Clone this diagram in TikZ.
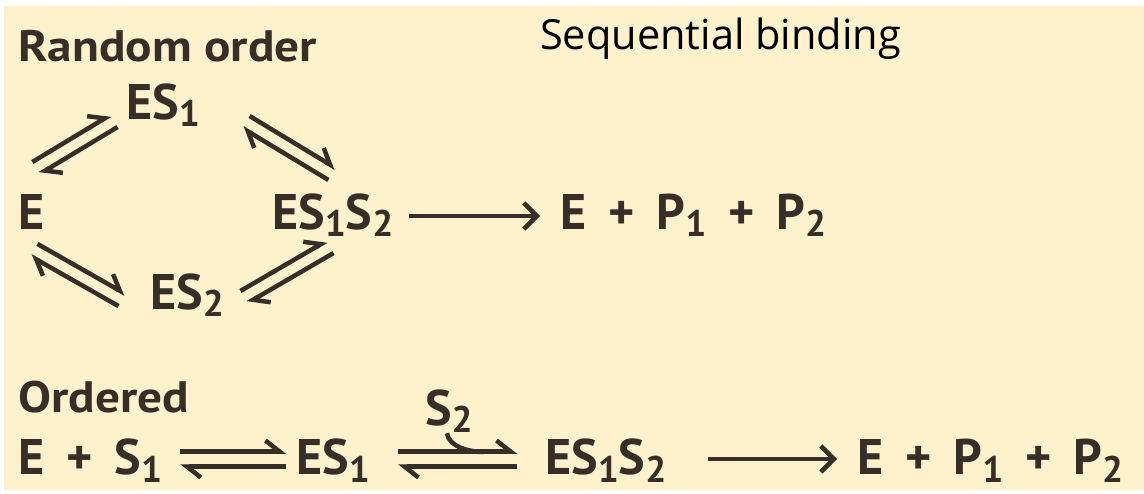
\documentclass[tikz,border=0pt]{standalone}
\usepackage{fontspec}
\setmainfont{PT Sans}
\newfontfamily\seqfont{Open Sans}
\usetikzlibrary{arrows.meta,calc}
\definecolor{bg}{HTML}{FEF2CC}
\definecolor{ink}{HTML}{372F27}
\newcommand{\sbs}[1]{\raisebox{-7pt}{\fontsize{37}{37}\selectfont #1}}
\newcommand{\pl}{\hspace{22pt}+\hspace{22pt}}
\tikzset{
  lbl/.style={anchor=base west, inner sep=0pt, text=ink, font=\bfseries\fontsize{50}{50}\selectfont},
  hdr/.style={anchor=base west, inner sep=0pt, text=ink, font=\bfseries\fontsize{44}{44}\selectfont, xscale=1.12},
  seq/.style={anchor=base west, inner sep=0pt, text=black, font=\seqfont\fontsize{41.5}{41.5}\selectfont},
  rx/.style={line width=4.5pt, draw=ink},
  harp/.style={rx, -{Straight Barb[left,length=14pt,width=22pt]}},
  fwdarr/.style={rx, -{Straight Barb[length=13pt,width=26pt]}}
}
\newcommand\eqpair[3]{%
  \draw[harp] ($(#1)!#3!90:(#2)$) -- ($(#2)!#3!-90:(#1)$);
  \draw[harp] ($(#2)!#3!90:(#1)$) -- ($(#1)!#3!-90:(#2)$);
}
\begin{document}
\begin{tikzpicture}[x=1pt,y=-1pt]
\useasboundingbox (0,0) rectangle (1144,494);
\fill[bg] (4,6) rectangle (1144,490);
% headings
\node[hdr] (ro) at (18,62) {Random order};
\node[seq] (sb) at (540,50) {Sequential binding};
\node[hdr] (ord) at (18,413) {Ordered};
% random order
\node[lbl] (e) at (18,230) {E};
\node[lbl] (es1) at (126,120) {ES\sbs{1}};
\node[lbl] (es2) at (150,310) {ES\sbs{2}};
\node[lbl] (es12) at (272,230) {ES\sbs{1}S\sbs{2}};
\node[lbl] (prod) at (560,230) {E\pl P\sbs{1}\pl P\sbs{2}};
\coordinate (ula) at (36,168);  \coordinate (ulb) at (114,121);
\coordinate (ura) at (246,122); \coordinate (urb) at (332,174);
\coordinate (lla) at (34,250);  \coordinate (llb) at (122,300);
\coordinate (lra) at (244,297); \coordinate (lrb) at (330,247);
\eqpair{ula}{ulb}{7pt}
\eqpair{ura}{urb}{7pt}
\eqpair{lla}{llb}{7pt}
\eqpair{lra}{lrb}{7pt}
\draw[fwdarr] ([xshift=16pt,yshift=14pt]es12.base east) -- ([xshift=-20pt,yshift=14pt]prod.base west);
% ordered
\node[lbl] (esl) at (18,475) {E\pl S\sbs{1}};
\node[lbl] (es1b) at (296,475) {ES\sbs{1}};
\node[lbl] (es12b) at (545,475) {ES\sbs{1}S\sbs{2}};
\node[lbl] (prodb) at (857,475) {E\pl P\sbs{1}\pl P\sbs{2}};
\node[lbl] (s2) at (425,425) {S\sbs{2}};
\coordinate (h1a) at ([xshift=18pt,yshift=16pt]esl.base east);
\coordinate (h1b) at ([xshift=-10pt,yshift=16pt]es1b.base west);
\coordinate (h2a) at ([xshift=28pt,yshift=16pt]es1b.base east);
\coordinate (h2b) at ([xshift=-28pt,yshift=16pt]es12b.base west);
\eqpair{h1a}{h1b}{7.5pt}
\eqpair{h2a}{h2b}{7.5pt}
\coordinate (hookend) at (484,452);
\draw[rx] ([xshift=-2pt,yshift=-1pt]s2.south) .. controls +(2,14) and +(-14,0) .. (hookend);
\draw[fwdarr] ([xshift=42pt,yshift=16pt]es12b.base east) -- ([xshift=-20pt,yshift=16pt]prodb.base west);
\end{tikzpicture}
\end{document}
